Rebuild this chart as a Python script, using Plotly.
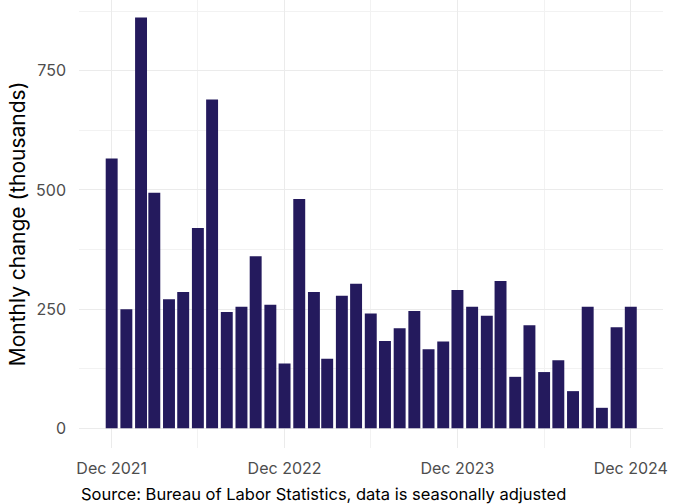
import plotly.graph_objects as go

months = [
    "2021-12-01", "2022-01-01", "2022-02-01", "2022-03-01", "2022-04-01", "2022-05-01",
    "2022-06-01", "2022-07-01", "2022-08-01", "2022-09-01", "2022-10-01", "2022-11-01",
    "2022-12-01", "2023-01-01", "2023-02-01", "2023-03-01", "2023-04-01", "2023-05-01",
    "2023-06-01", "2023-07-01", "2023-08-01", "2023-09-01", "2023-10-01", "2023-11-01",
    "2023-12-01", "2024-01-01", "2024-02-01", "2024-03-01", "2024-04-01", "2024-05-01",
    "2024-06-01", "2024-07-01", "2024-08-01", "2024-09-01", "2024-10-01", "2024-11-01",
    "2024-12-01",
]
change = [
    566, 250, 862, 494, 271, 286,
    420, 690, 244, 255, 361, 259,
    136, 481, 286, 146, 278, 303,
    241, 183, 210, 246, 166, 182,
    290, 255, 236, 309, 108, 216,
    118, 143, 78, 255, 43, 212,
    255,
]

x_tick_vals = ["2021-12-01", "2022-12-01", "2023-12-01", "2024-12-01"]
x_tick_text = ["Dec 2021", "Dec 2022", "Dec 2023", "Dec 2024"]
x_minor_vals = ["2022-06-01", "2023-06-01", "2024-06-01"]
y_tick_vals = [0, 250, 500, 750]
y_minor_vals = [125, 375, 625, 875]

FONT = "Inter"
TICK_COLOR = "#4d4d4d"
BAR_COLOR = "#241a5d"
DAY_MS = 86400000

fig = go.Figure(
    go.Bar(
        x=months,
        y=change,
        width=[25.2 * DAY_MS] * len(months),
        marker=dict(color=BAR_COLOR, line=dict(width=0)),
    )
)

fig.update_layout(
    width=679,
    height=504,
    margin=dict(l=79, r=16, t=0, b=56),
    paper_bgcolor="white",
    plot_bgcolor="white",
    showlegend=False,
    font=dict(family=FONT, color=TICK_COLOR, size=16),
    annotations=[
        dict(
            text="Source: Bureau of Labor Statistics, data is seasonally adjusted",
            xref="paper", yref="paper", x=0.0, y=-0.076,
            xanchor="left", yanchor="top", showarrow=False,
            font=dict(family=FONT, size=16.5, color="#000000"),
        )
    ],
)

fig.update_xaxes(
    type="date",
    range=["2021-09-23", "2025-02-07"],
    tickmode="array",
    tickvals=x_tick_vals,
    ticktext=x_tick_text,
    tickfont=dict(family=FONT, size=16, color=TICK_COLOR),
    ticklabelstandoff=9,
    showgrid=True,
    gridcolor="#ebebeb",
    gridwidth=1,
    zeroline=False,
    showline=False,
    ticks="",
    minor=dict(tickmode="array", tickvals=x_minor_vals, showgrid=True,
               gridcolor="#f2f2f2", gridwidth=0.6),
)

fig.update_yaxes(
    range=[-41.3, 898.5],
    tickmode="array",
    tickvals=y_tick_vals,
    tickfont=dict(family=FONT, size=16, color=TICK_COLOR),
    showgrid=True,
    gridcolor="#ebebeb",
    gridwidth=1,
    zeroline=False,
    showline=False,
    ticks="",
    ticklabelstandoff=12,
    minor=dict(tickmode="array", tickvals=y_minor_vals, showgrid=True,
               gridcolor="#f2f2f2", gridwidth=0.6),
    title=dict(text="Monthly change (thousands)", standoff=4,
               font=dict(family=FONT, size=21, color="#000000")),
)

fig.write_html(
    "out.html",
    config={"displayModeBar": False},
    post_script="document.body.style.margin='0';document.body.style.padding='0';",
)
